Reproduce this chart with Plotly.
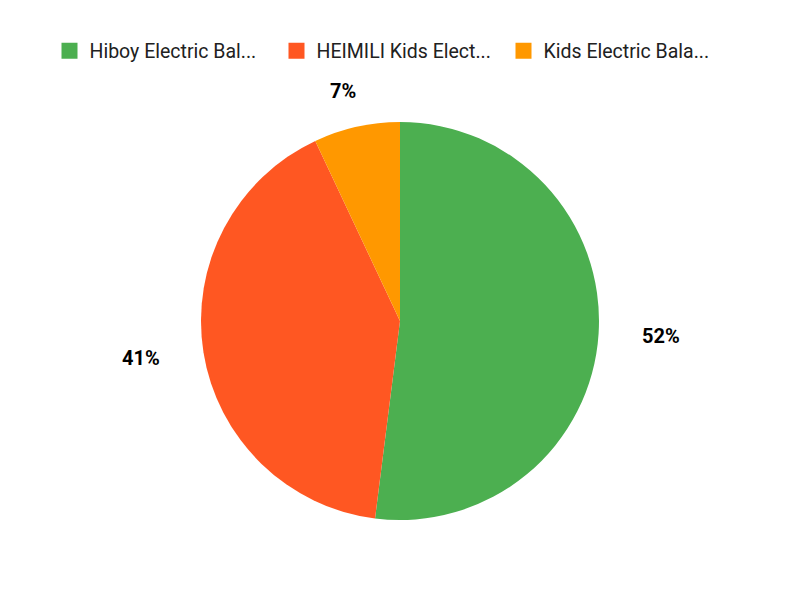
import numpy as np
import plotly.graph_objects as go

# Data
labels = ["Hiboy Electric Bal...", "HEIMILI Kids Elect...", "Kids Electric Bala..."]
values = [52, 41, 7]
colors = ["#4CAF50", "#FF5722", "#FF9800"]

#------------------------------------------------------------------------------
# Page is drawn with an 8px body offset, so work in paper pixels
W, H = 800, 600
cx_px, cy_px, radius_px = 392, 313, 199

fig = go.Figure()
fig.add_trace(go.Pie(labels = labels,
                     values = values,
                     marker = dict(colors = colors),
                     sort = False,
                     direction = "clockwise",
                     rotation = 0,
                     textinfo = "none",
                     hoverinfo = "label+percent",
                     showlegend = False,
                     domain = dict(x = [(cx_px - radius_px) / W, (cx_px + radius_px) / W],
                                   y = [1 - (cy_px + radius_px) / H, 1 - (cy_px - radius_px) / H])))

# Legend entries with bigger square swatches
for lab, col in zip(labels, colors):
    fig.add_trace(go.Scatter(x = [None], y = [None], mode = "markers", name = lab,
                             marker = dict(symbol = "square", size = 20, color = col)))

# Percent labels placed outside along each slice bisector (on an ellipse)
total = sum(values)
cum = np.cumsum([0] + values[:-1])
rx, ry = 262, 236
for v, c in zip(values, cum):
    ang = 2 * np.pi * (c + v / 2) / total
    x_px = cx_px + rx * np.sin(ang)
    y_px = cy_px - ry * np.cos(ang)
    fig.add_annotation(x = x_px / W, y = 1 - y_px / H, xref = "paper", yref = "paper",
                       xanchor = "center", yanchor = "middle",
                       text = f"<b>{round(100 * v / total)}%</b>",
                       showarrow = False,
                       font = dict(family = "Roboto", size = 20, color = "#000000"))

fig.update_layout(
    width = W,
    height = H,
    margin = dict(t = 0, l = 0, r = 0, b = 0),
    paper_bgcolor = "white",
    plot_bgcolor = "white",
    font = dict(family = "Roboto", size = 19.5, color = "#212121"),
    xaxis = dict(visible = False),
    yaxis = dict(visible = False),
    showlegend = True,
    legend = dict(orientation = "h", x = 0.4775, xanchor = "center",
                  y = 1 - 43 / H, yanchor = "middle",
                  itemsizing = "trace",
                  entrywidth = 182,
                  font = dict(size = 19.5)),
)

fig.write_html("out.html")
